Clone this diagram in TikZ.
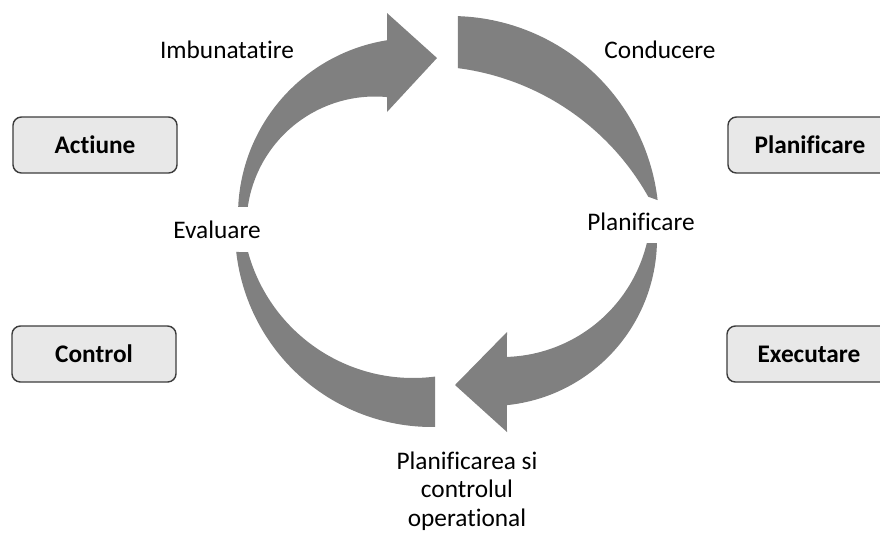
\documentclass[tikz,border=0pt]{standalone}
\usepackage{fontspec}
\setmainfont{Carlito}[Ligatures=NoCommon]

\definecolor{arrowgray}{RGB}{128,128,128}
\definecolor{boxfill}{RGB}{232,232,232}
\definecolor{boxline}{RGB}{60,60,60}

\tikzset{
    stage box/.style={
        draw=boxline,line width=1pt,rounded corners=6pt,
        fill=boxfill,
        minimum width=4.1cm,minimum height=1.4cm,
        font=\fontsize{18}{20}\selectfont\bfseries
    },
    cycle label/.style={
        inner sep=0pt,anchor=base,
        font=\fontsize{18}{20}\selectfont
    },
    cycle arrow/.style={
        fill=arrowgray,samples=60
    }
}

\begin{document}
\begin{tikzpicture}[x=0.025cm,y=-0.025cm]
        \useasboundingbox (0,0) rectangle (880,535);
        \clip (0,0) rectangle (880,535);
        % the four parts of the cycle
        \fill[cycle arrow] plot[domain=182.6:260.9,variable=\t] ({415+177*cos(\t)},{215+177*sin(\t)})
            -- (387,13) -- (437,58) -- (387,112)
            -- plot[domain=275.4:188.1,variable=\t] ({375+128.5*cos(\t)},{225+128.5*sin(\t)}) -- cycle;
        \fill[cycle arrow] plot[domain=271.9:353.4,variable=\t] ({451+208*cos(\t)},{224+208*sin(\t)})
            -- plot[domain=330.7:277.4,variable=\t] ({425+256*cos(\t)},{322+256*sin(\t)}) -- cycle;
        \fill[cycle arrow] plot[domain=1.4:84.2,variable=\t] ({490+167*cos(\t)},{239+167*sin(\t)})
            -- (507,432) -- (455,385) -- (507,332)
            -- plot[domain=88.1:13.6,variable=\t] ({502+149*cos(\t)},{208+149*sin(\t)}) -- cycle;
        \fill[cycle arrow] plot[domain=173.6:89.1,variable=\t] ({432+197*cos(\t)},{230+197*sin(\t)})
            -- plot[domain=82.6:164.7,variable=\t] ({413+171*cos(\t)},{207+171*sin(\t)}) -- cycle;
        % labels round the cycle
        \node[cycle label] (imbunatatire) at (227,58) {Imbunatatire};
        \node[cycle label] (conducere) at (660,58) {Conducere};
        \node[cycle label] (planif) at (641,230) {Planificare};
        \node[cycle label] (evaluare) at (217,238) {Evaluare};
        \node[cycle label,anchor=north,align=center] (operational) at (467,452)
            {Planificarea si\\controlul\\operational};
        % side boxes
        \foreach \x/\y/\name/\txt in {95/145/actiune/Actiune,94/354/control/Control,
                                      810/145/planificare/Planificare,809/354/executare/Executare}
            \node[stage box] (\name) at (\x,\y) {\txt};
    \end{tikzpicture}
\end{document}
